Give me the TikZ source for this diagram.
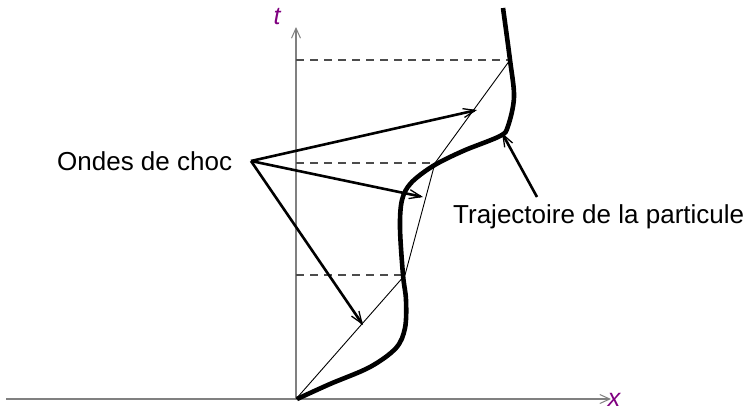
\documentclass[tikz,border=0pt]{standalone}
\usepackage{fontspec}
\setmainfont{Liberation Sans}
\usetikzlibrary{arrows.meta}
\definecolor{axisgray}{RGB}{128,128,128}
\definecolor{labpurple}{RGB}{128,0,128}
\begin{document}
\begin{tikzpicture}[x=1pt,y=-1pt,
  axis/.style={draw=axisgray,line width=1.6pt,-{Straight Barb[length=10pt,width=9pt,line width=1pt]}},
  guide/.style={draw=black!70,line width=1.1pt,dash pattern=on 8pt off 6pt},
  secant/.style={line width=0.9pt},
  traj/.style={line width=4.6pt},
  ann/.style={line width=2.6pt,-{Straight Barb[length=12pt,width=9pt,line width=1.3pt]}},
  lbl/.style={font=\fontsize{26}{30}\selectfont,inner sep=0pt},
  axlbl/.style={font=\fontsize{25}{30}\selectfont\itshape,text=labpurple,inner sep=0pt}]
\useasboundingbox (0,0) rectangle (749,408);
% coordinates
\coordinate (O) at (296,399);
\coordinate (xs) at (6,399);
\coordinate (xe) at (611,399);
\coordinate (te) at (296,27);
\coordinate (P1) at (405,275);
\coordinate (P2) at (435,163);
\coordinate (P3) at (510,60);
\coordinate (A1) at (296,275);
\coordinate (A2) at (296,163);
\coordinate (A3) at (296,60);
\coordinate (B2) at (432,163);
\coordinate (src) at (251,161);
\coordinate (S1) at (477,110);
\coordinate (S2) at (423,197);
\coordinate (S3) at (363,325);
\coordinate (T0) at (537,197);
\coordinate (T1) at (502,133);
% axes
\draw[axis] (xs) -- (xe);
\draw[axis] (O) -- (te);
\node[axlbl] (tlab) at (277,17) {t};
\node[axlbl] (xlab) at (614,400) {x};
% dashed guides
\draw[guide] (A1) -- (P1);
\draw[guide] (A2) -- (B2);
\draw[guide] (A3) -- (P3);
% secant (thin) line
\draw[secant] (O) -- (P1) -- (P2) -- (P3);
% particle trajectory
\draw[traj] plot[smooth,tension=0.55] coordinates{
 (297,399) (330,384) (370,367) (396,348) (405,328) (406,300) (403,275)
 (400,228) (402,200) (411,183) (433,166) (463,151) (500,136) (508,126)
 (514,97) (510,60) (503,8)};
% labels
\node[lbl,anchor=base west] (ondes) at (57,170) {Ondes de choc};
\node[lbl,anchor=base west] (traject) at (453,223) {Trajectoire de la particule};
% annotation arrows
\draw[ann] (src) -- (S1);
\draw[ann] (src) -- (S2);
\draw[ann] (src) -- (S3);
\draw[ann] (T0) -- (T1);
\end{tikzpicture}
\end{document}
